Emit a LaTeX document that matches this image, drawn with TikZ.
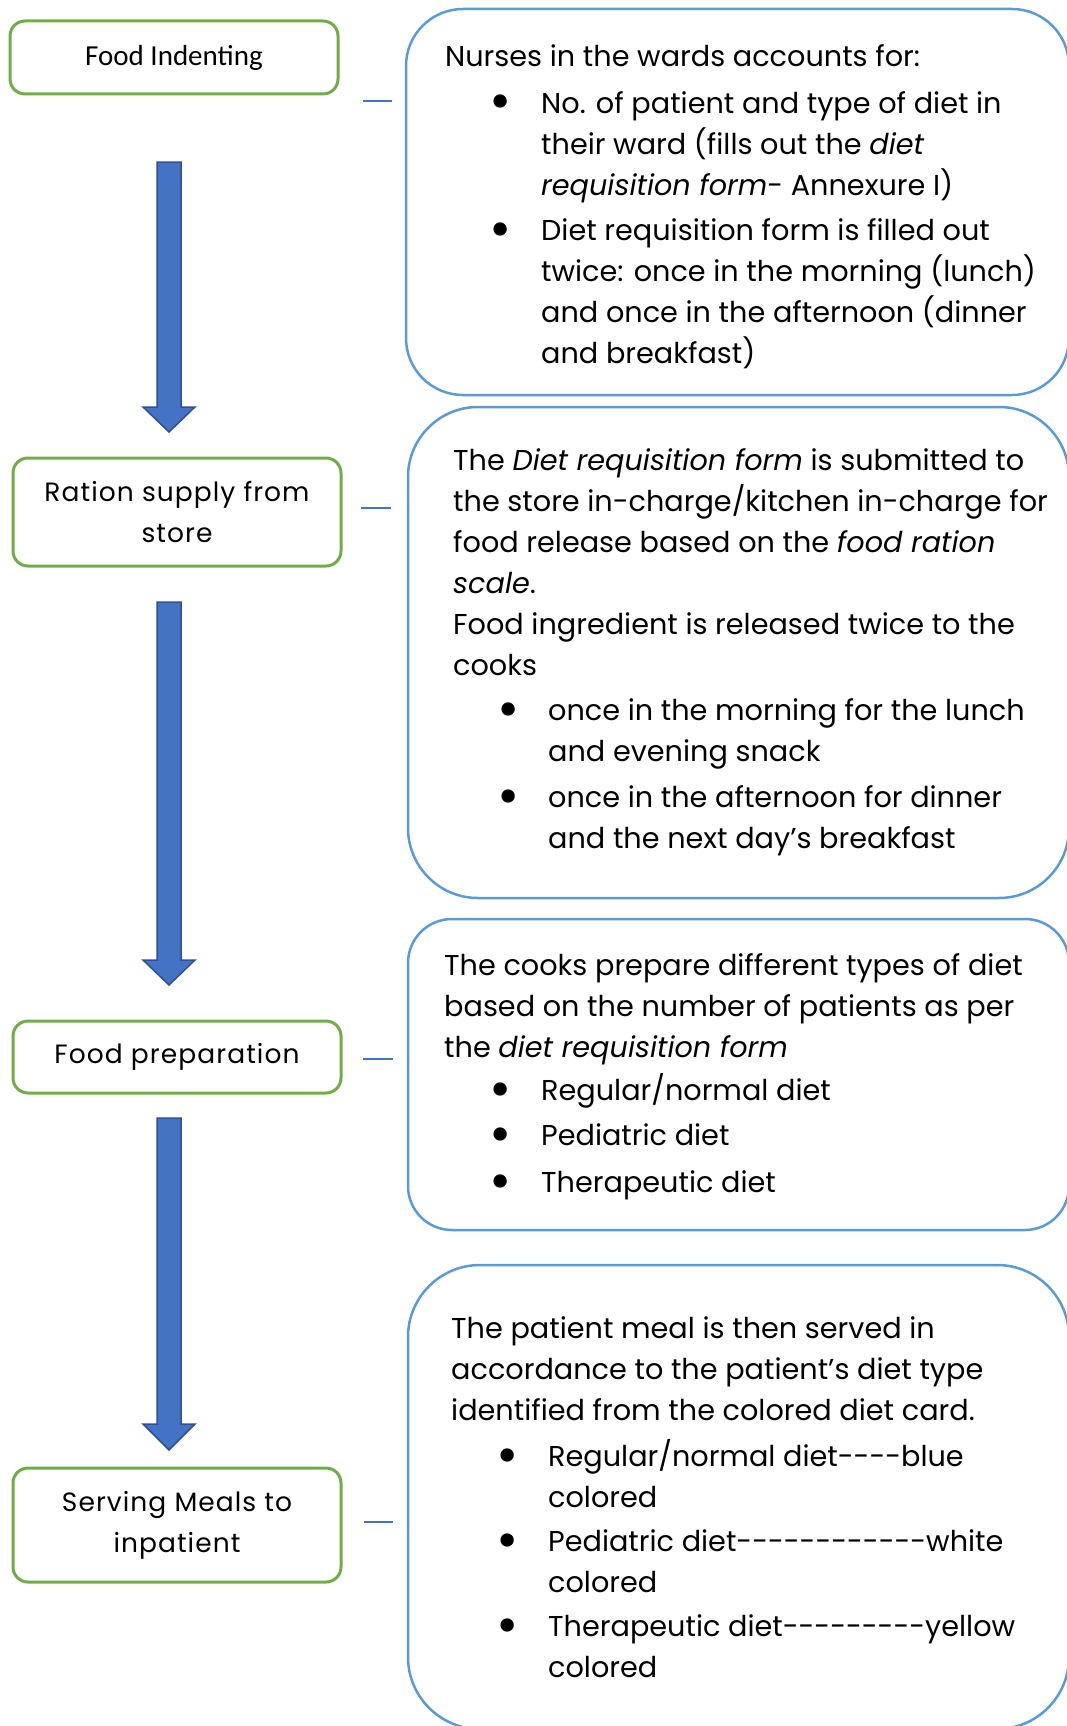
\documentclass[tikz,border=0pt]{standalone}
\usepackage{fontspec}
\setmainfont{Poppins}[Ligatures=TeXOff]
\newfontfamily\calfont{Carlito}
\newfontfamily\stepfont{Poppins}[LetterSpace=4,Ligatures=TeXOff]
\usetikzlibrary{positioning}

\definecolor{stepgreen}{HTML}{70AD47}
\definecolor{noteblue}{HTML}{5B9BD5}
\definecolor{arrowblue}{HTML}{4472C4}
\definecolor{arrowedge}{HTML}{2F528F}

\newcommand\notefont{\fontsize{28.7}{41}\selectfont}
% block arrow: x centre, top, start of head, tip
\newcommand\blockarrow[4]{%
  \draw[bigarrow] (#1-12,#2) -- (#1+12,#2) -- (#1+12,#3) -- (#1+26,#3)
    -- (#1,#4) -- (#1-26,#3) -- (#1-12,#3) -- cycle;}

\begin{document}
\begin{tikzpicture}[x=1pt,y=-1pt,
  stepbox/.style={draw=stepgreen, line width=3pt, rounded corners=15pt,
    minimum width=328pt, align=center, inner sep=0pt,
    font=\stepfont\fontsize{26.5}{41}\selectfont},
  notebox/.style={draw=noteblue, line width=2.5pt},
  % anchored on the baseline of the last line
  notetext/.style={anchor=base west, inner sep=0pt, align=left, font=\notefont},
  dot/.style={anchor=base, inner sep=0pt, text height=24pt, text depth=0pt,
    font=\fontsize{54}{54}\selectfont},
  link/.style={draw=arrowblue, line width=1.5pt},
  bigarrow/.style={fill=arrowblue, draw=arrowedge, line width=1.5pt}]
\useasboundingbox (0,0) rectangle (1067,1726);

% steps on the left
\node[stepbox, minimum height=73pt, font=\calfont\fontsize{29}{41}\selectfont] (step1) at (174,57.5) {Food Indenting};
\node[stepbox, minimum height=108pt] (step2) at (177,512) {Ration supply from\\store};
\node[stepbox, minimum height=72pt] (step3) at (177,1057) {Food preparation};
\node[stepbox, minimum height=114pt] (step4) at (177,1525) {Serving Meals to\\inpatient};

% block arrows between the steps
\blockarrow{169}{162}{407}{432}
\blockarrow{169}{602}{960}{985}
\blockarrow{169}{1118}{1424}{1450}

% short lines
\draw[link] (363,101) -- (392,101);
\draw[link] (361,508) -- (391,508);
\draw[link] (363,1059) -- (393,1059);
\draw[link] (364,1522) -- (393,1522);

% notes on the right
\draw[notebox, rounded corners=57pt] (406,9) rectangle (1069,395);
\draw[notebox, rounded corners=70pt] (408,407) rectangle (1069,898);
\draw[notebox, rounded corners=44pt] (408,919) rectangle (1069,1230);
\draw[notebox, rounded corners=72pt] (408,1265) rectangle (1069,1729);

% note 1
\node[notetext] (n1) at (445,67) {Nurses in the wards accounts for:};
\node[dot] (d1a) at (501,120) {\textbullet};
\node[notetext] (n1a) at (541,195) {No. of patient and type of diet in\\their ward (fills out the \textit{diet}\\\textit{requisition form}- Annexure I)};
\node[dot] (d1b) at (501,247) {\textbullet};
\node[notetext] (n1b) at (541,363) {Diet requisition form is filled out\\twice: once in the morning (lunch)\\and once in the afternoon (dinner\\and breakfast)};

% note 2
\node[notetext] (n2) at (453,675) {The \textit{Diet requisition form} is submitted to\\the store in-charge/kitchen in-charge for\\food release based on the \textit{food ration}\\\textit{scale}.\\Food ingredient is released twice to the\\cooks};
\node[dot] (d2a) at (509,727) {\textbullet};
\node[notetext] (n2a) at (548,761) {once in the morning for the lunch\\and evening snack};
\node[dot] (d2b) at (509,814) {\textbullet};
\node[notetext] (n2b) at (548,848) {once in the afternoon for dinner\\and the next day’s breakfast};

% note 3
\node[notetext] (n3) at (444,1057) {The cooks prepare different types of diet\\based on the number of patients as per\\the \textit{diet requisition form}};
\node[dot] (d3a) at (501,1107) {\textbullet};
\node[notetext] (n3a) at (541,1100) {Regular/normal diet};
\node[dot] (d3b) at (501,1152) {\textbullet};
\node[notetext] (n3b) at (541,1145) {Pediatric diet};
\node[dot] (d3c) at (501,1199) {\textbullet};
\node[notetext] (n3c) at (541,1192) {Therapeutic diet};

% note 4
\node[notetext] (n4) at (451,1420) {The patient meal is then served in\\accordance to the patient’s diet type\\identified from the colored diet card.};
\node[dot] (d4a) at (508,1473) {\textbullet};
\node[notetext] (n4a) at (548,1507) {Regular/normal diet----blue\\colored};
\node[dot] (d4b) at (508,1558) {\textbullet};
\node[notetext] (n4b) at (548,1592) {Pediatric diet------------white\\colored};
\node[dot] (d4c) at (508,1643) {\textbullet};
\node[notetext] (n4c) at (548,1677) {Therapeutic diet---------yellow\\colored};

\end{tikzpicture}
\end{document}
